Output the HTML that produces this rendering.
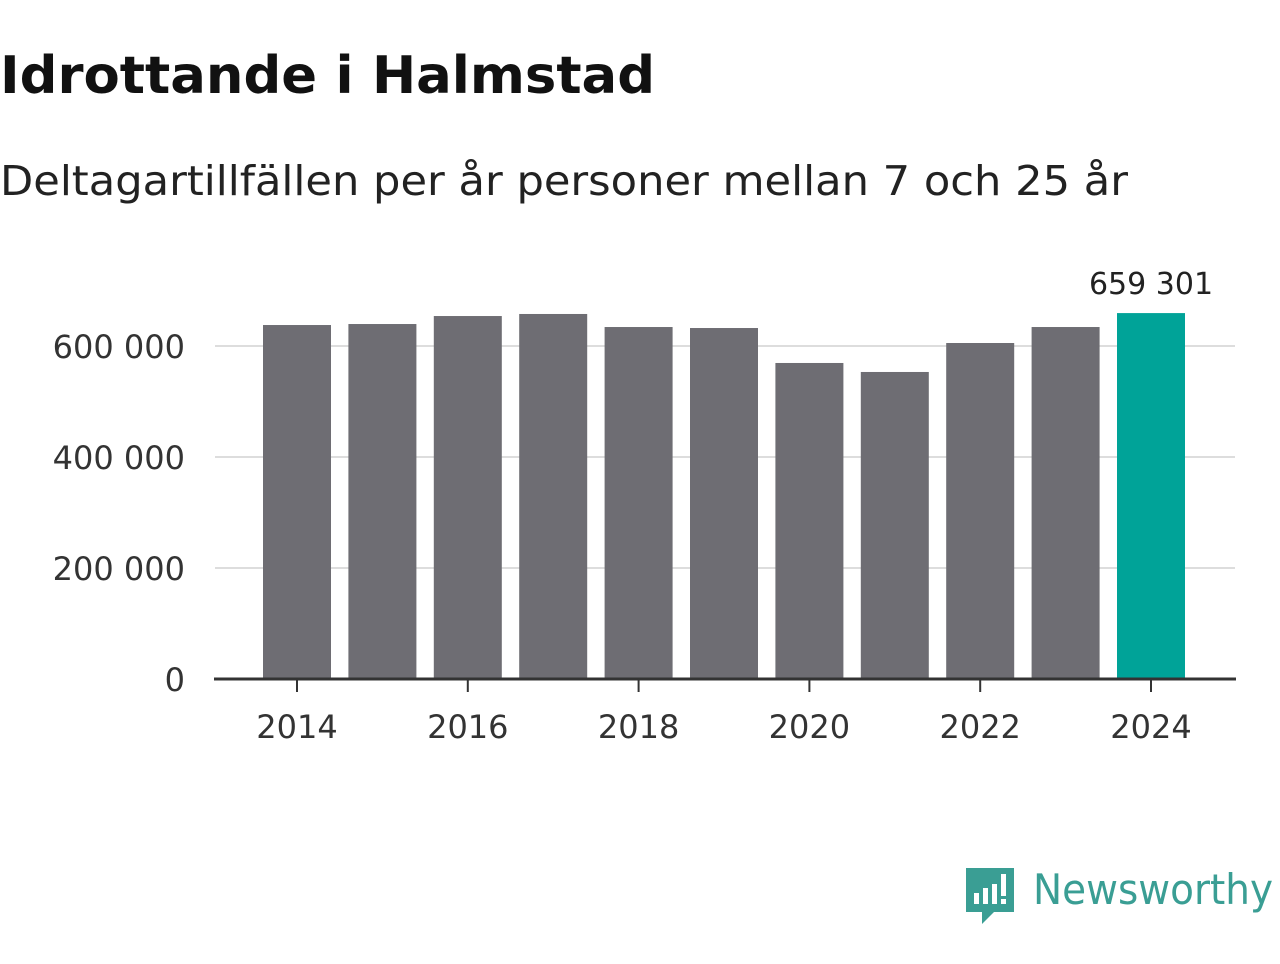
<!DOCTYPE html>
<html><head><meta charset="utf-8"><style>
body{margin:0;width:1280px;height:960px;background:#fff;font-family:"DejaVu Sans","Liberation Sans",sans-serif;overflow:hidden}
</style></head><body>
<svg width="1280" height="960" xmlns="http://www.w3.org/2000/svg" font-family="DejaVu Sans, Liberation Sans, sans-serif">
<text x="0" y="93" font-size="52" font-weight="bold" fill="#111" textLength="655" lengthAdjust="spacingAndGlyphs">Idrottande i Halmstad</text>
<text x="0" y="195" font-size="41" fill="#222" textLength="1128" lengthAdjust="spacingAndGlyphs">Deltagartillfällen per år personer mellan 7 och 25 år</text>
<g id="grid"></g><g id="bars"></g><g id="axis"></g>
<g>
<path d="M966 868 h48 v44 h-20 l-12 12 v-12 h-16 z" fill="#3a9e94"/>
<rect x="974" y="893" width="5" height="11" fill="#fff"/><rect x="983" y="888" width="5" height="16" fill="#fff"/><rect x="992" y="884" width="5" height="20" fill="#fff"/><rect x="1001" y="874" width="5" height="22" fill="#fff"/><rect x="1001" y="899" width="5" height="5" fill="#fff"/>
<text x="1033" y="904" font-size="42" fill="#3a9e94" textLength="240" lengthAdjust="spacingAndGlyphs">Newsworthy</text>
</g>
</svg>
<script>
const years=[2014,2015,2016,2017,2018,2019,2020,2021,2022,2023,2024];
const values=[637800,639600,654000,657700,634200,632400,569400,553200,605400,634200,659301];
const yTicks=[0,200000,400000,600000];
const xTicks=[2014,2016,2018,2020,2022,2024];
const NS="http://www.w3.org/2000/svg";
const y=v=>679-v*(333/600000);
const x=yr=>297+(yr-2014)*85.4;
const fmt=v=>v.toLocaleString('en-US').replace(/,/g,' ');
function mk(tag,attrs,parent){const e=document.createElementNS(NS,tag);for(const k in attrs)e.setAttribute(k,attrs[k]);document.getElementById(parent).appendChild(e);return e;}
yTicks.forEach(t=>{
 if(t>0){const l=mk('line',{x1:215,x2:1235,y1:y(t),y2:y(t),stroke:'#ddd','stroke-width':2},'grid');
 
 }
 const tx=mk('text',{x:185,y:y(t)+12,'font-size':32,fill:'#333','text-anchor':'end'},'axis');tx.textContent=fmt(t);
 
 
});
years.forEach((yr,i)=>{
 const last=i===years.length-1;
 const r=mk('rect',{x:x(yr)-34,y:y(values[i]),width:68,height:679-y(values[i]),fill:last?'#00a398':'#6e6d73'},'bars');
 
 
 if(last){const t=mk('text',{x:x(yr),y:y(values[i])-19,'font-size':30,fill:'#222','text-anchor':'middle'},'bars');t.textContent=fmt(values[i]);
 
 }
});
const ax=mk('line',{x1:214,x2:1236,y1:679,y2:679,stroke:'#333','stroke-width':3},'axis');


xTicks.forEach(yr=>{
 const tk=mk('line',{x1:x(yr),x2:x(yr),y1:679,y2:692,stroke:'#333','stroke-width':2},'axis');
 
 
 const t=mk('text',{x:x(yr),y:738,'font-size':32,fill:'#333','text-anchor':'middle'},'axis');t.textContent=yr;
 
 
});
</script>
</body></html>
